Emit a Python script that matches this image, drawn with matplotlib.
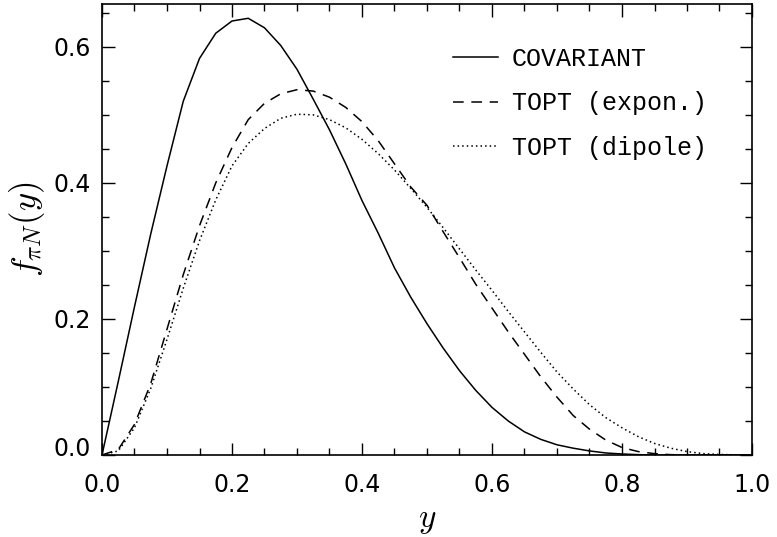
import matplotlib
matplotlib.use("Agg")
import matplotlib.pyplot as plt
import matplotlib.transforms as mtransforms
import numpy as np

plt.rcParams['mathtext.fontset'] = 'cm'

# momentum fraction grid and the three pion distributions read on it
y_vals = [0.0, 0.025, 0.05, 0.075, 0.1, 0.125, 0.15, 0.175, 0.2, 0.225,
          0.25, 0.275, 0.3, 0.325, 0.35, 0.375, 0.4, 0.425, 0.45, 0.475,
          0.5, 0.525, 0.55, 0.575, 0.6, 0.625, 0.65, 0.675, 0.7, 0.725,
          0.75, 0.775, 0.8, 0.825, 0.85, 0.875, 0.9, 0.925, 0.95, 0.975, 1.0]

f_cov = [0.0, 0.108, 0.218, 0.325, 0.425, 0.520, 0.583, 0.620, 0.638, 0.642,
         0.628, 0.602, 0.567, 0.523, 0.478, 0.428, 0.374, 0.326, 0.275, 0.232,
         0.193, 0.157, 0.124, 0.095, 0.070, 0.050, 0.034, 0.023, 0.015, 0.010,
         0.006, 0.003, 0.0015, 0.0005, 0.0, 0.0, 0.0, 0.0, 0.0, 0.0, 0.0]

f_exp = [0.0, 0.008, 0.045, 0.105, 0.185, 0.265, 0.337, 0.400, 0.452, 0.493,
         0.517, 0.531, 0.537, 0.535, 0.526, 0.511, 0.490, 0.462, 0.428, 0.394,
         0.367, 0.328, 0.290, 0.251, 0.216, 0.181, 0.148, 0.115, 0.085, 0.058,
         0.038, 0.022, 0.011, 0.005, 0.002, 0.0005, 0.0, 0.0, 0.0, 0.0, 0.0]

f_dip = [0.0, 0.006, 0.040, 0.098, 0.170, 0.245, 0.315, 0.375, 0.425, 0.458,
         0.480, 0.495, 0.501, 0.500, 0.493, 0.481, 0.464, 0.443, 0.419, 0.392,
         0.364, 0.334, 0.303, 0.272, 0.242, 0.211, 0.181, 0.151, 0.122, 0.097,
         0.074, 0.055, 0.040, 0.027, 0.017, 0.010, 0.005, 0.002, 0.0008, 0.0002, 0.0]

labels = ["COVARIANT", "TOPT (expon.)", "TOPT (dipole)"]
xticks = [0.0, 0.2, 0.4, 0.6, 0.8, 1.0]
yticks = [0.0, 0.2, 0.4, 0.6]

fig = plt.figure(figsize=(7.77, 5.37), dpi=100)
ax = fig.add_axes([102/777, 82/537, 650/777, 451/537])

ax.plot(y_vals, f_cov, color='black', lw=1.1, ls='-', label=labels[0])
ax.plot(y_vals, f_exp, color='black', lw=1.1, ls=(0, (7, 5)), label=labels[1])
ax.plot(y_vals, f_dip, color='black', lw=1.1, ls=(0, (1, 2)), label=labels[2])

ax.set_xlim(0, 1.0)
ax.set_ylim(0, 0.663)
ax.set_xticks(xticks)
ax.set_xticks(np.arange(0, 1.001, 0.05), minor=True)
ax.set_yticks(yticks)
ax.set_yticks(np.arange(0, 0.66, 0.05), minor=True)
ax.set_xticklabels(["%.1f" % v for v in xticks])
ax.set_yticklabels(["%.1f" % v for v in yticks])

ax.tick_params(which='both', direction='in', top=True, right=True, width=1.0)
ax.tick_params(which='major', length=9, labelsize=17)
ax.tick_params(which='minor', length=5)
ax.tick_params(axis='x', which='major', pad=13)
ax.tick_params(axis='y', which='major', pad=8)
for lab in ax.get_xticklabels() + ax.get_yticklabels():
    lab.set_family('DejaVu Sans')
# lift the bottom y label clear of the x axis
lift = mtransforms.ScaledTranslation(0, 0.09, fig.dpi_scale_trans)
ylab0 = ax.get_yticklabels()[0]
ylab0.set_transform(ylab0.get_transform() + lift)
for sp in ax.spines.values():
    sp.set_linewidth(1.2)

ax.set_xlabel(r"$y$", fontsize=24, labelpad=4)
ax.set_ylabel(r"$f_{\pi N}(y)$", fontsize=25, labelpad=5)

leg = ax.legend(loc='upper left', bbox_to_anchor=(0.54, 0.905), frameon=False,
                borderpad=0, borderaxespad=0,
                handlelength=1.8, handletextpad=0.55, labelspacing=0.82,
                prop={'family': 'Liberation Mono', 'size': 18})

fig.savefig("out.png", dpi=100)
